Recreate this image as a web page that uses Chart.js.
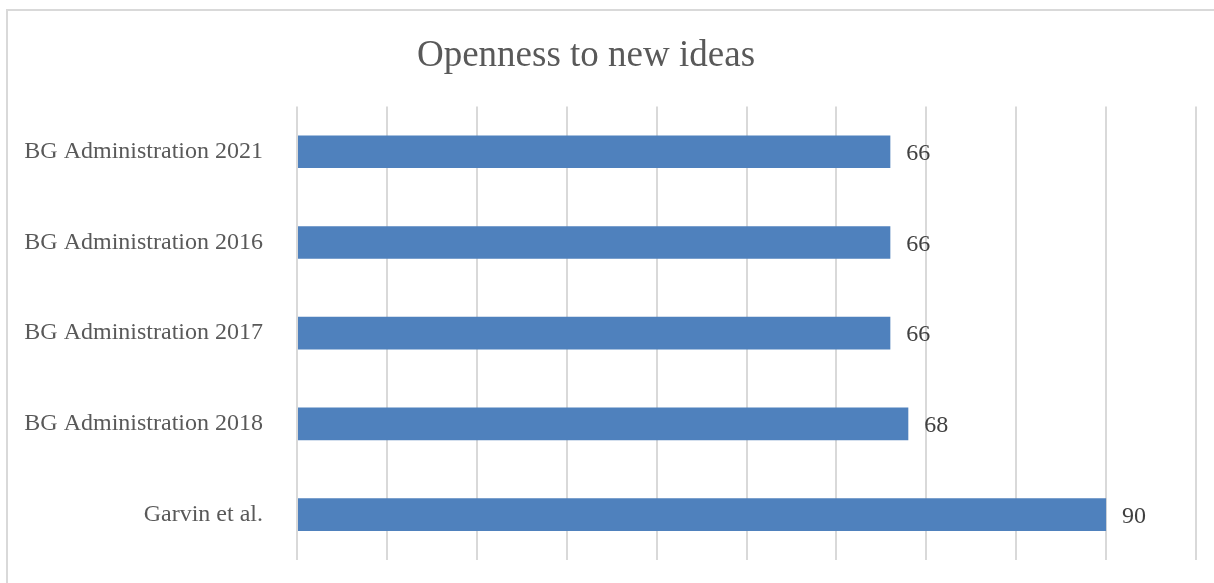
<!DOCTYPE html>
<html>
<head>
<meta charset="utf-8">
<title>Openness to new ideas</title>
<script src="https://cdn.jsdelivr.net/npm/chart.js@4/dist/chart.umd.min.js"></script>
<style>
  html, body { margin: 0; padding: 0; background: #fff; overflow: hidden; }
  .frame {
    position: absolute; left: 6px; top: 9px;
    width: 1240px; height: 600px;
    border: 2px solid #d9d9d9; box-sizing: border-box;
  }
  /* canvas starts a little left of the page so the title sits over the middle */
  .wrap { position: absolute; left: -24px; top: 0; width: 1238px; height: 583px; }
</style>
</head>
<body>
<div class="frame"></div>
<div class="wrap"><canvas id="openness"></canvas></div>
<script>
'use strict';

const categories = [
  'BG Administration 2021',
  'BG Administration 2016',
  'BG Administration 2017',
  'BG Administration 2018',
  'Garvin et al.'
];
const scores = [66, 66, 66, 68, 90];
const axisMin = 0;
const axisMax = 100;
const axisStep = 10;

const SERIF = '"Liberation Serif", "Times New Roman", serif';

// value labels to the right of each bar
const barValues = {
  id: 'barValues',
  afterDatasetsDraw(chart) {
    const { ctx } = chart;
    const meta = chart.getDatasetMeta(0);
    ctx.save();
    ctx.font = '24px ' + SERIF;
    ctx.fillStyle = '#404040';
    ctx.textAlign = 'left';
    ctx.textBaseline = 'middle';
    meta.data.forEach((bar, i) => {
      ctx.fillText(String(scores[i]), bar.x + 16, bar.y + 2);
    });
    ctx.restore();
  }
};

new Chart(document.getElementById('openness').getContext('2d'), {
  type: 'bar',
  data: {
    labels: categories,
    datasets: [{
      data: scores,
      backgroundColor: '#4f81bd',
      borderWidth: 0,
      barPercentage: 0.36,
      categoryPercentage: 1
    }]
  },
  options: {
    indexAxis: 'y',
    responsive: true,
    maintainAspectRatio: false,
    animation: false,
    layout: { padding: { left: 0, right: 18, top: 0, bottom: 23 } },
    plugins: {
      legend: { display: false },
      tooltip: { enabled: false },
      title: {
        display: true,
        text: 'Openness to new ideas',
        color: '#595959',
        font: { family: SERIF, size: 37, weight: 'normal' },
        padding: { top: 34, bottom: 28 }
      }
    },
    scales: {
      x: {
        min: axisMin, max: axisMax,
        afterFit(scale) { scale.height = 0; },
        ticks: { display: false, stepSize: axisStep },
        grid: { color: '#d9d9d9', lineWidth: 2, drawTicks: false },
        border: { display: false }
      },
      y: {
        // fixed label column; the label padding should not eat into the plot height
        afterFit(scale) {
          scale.width = 321;
          scale.paddingTop = 0;
          scale.paddingBottom = 0;
        },
        ticks: {
          color: '#595959',
          padding: 34,
          font: { family: SERIF, size: 24 }
        },
        grid: { display: false, drawTicks: false },
        border: { display: false }
      }
    }
  },
  plugins: [barValues]
});
</script>
</body>
</html>
